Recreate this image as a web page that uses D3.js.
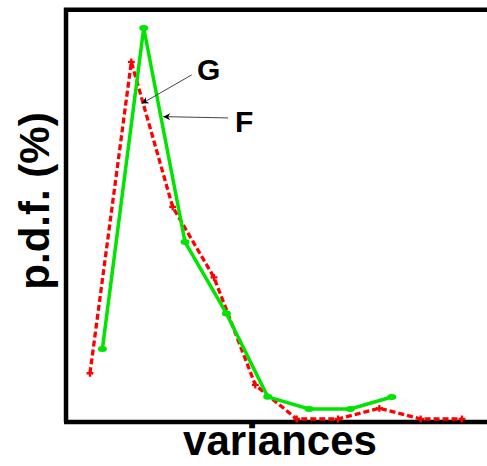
<!DOCTYPE html>
<html>
<head>
<meta charset="utf-8">
<script src="https://cdn.jsdelivr.net/npm/d3@7"></script>
<style>
  body { margin: 0; background: #fff; }
  svg { display: block; }
</style>
</head>
<body>
<svg class="svg"></svg>
<script>
// series F (green, solid) and G (red, dashed) - p.d.f. in %
const varF = [1.3, 2.3, 3.3, 4.3, 5.3, 6.3, 7.3, 8.3]
const pdfF = [5.37, 30.0, 13.58, 8.10, 1.70, 0.77, 0.77, 1.69]

const varG = [1, 2, 3, 4, 5, 6, 7, 8, 9, 10]
const pdfG = [3.51, 27.4, 16.27, 10.86, 2.61, 0, 0, 0.82, 0, 0]

// annotation labels: [label, textX, textY, tailX, tailY, tipX, tipY]
const notes = [
  ["G", 3.59, 26.0, 3.46, 26.4, 2.25, 24.2],
  ["F", 4.51, 22.0, 4.34, 23.1, 2.77, 23.2]
]

const width = 487, height = 466

const svg = d3.select(".svg")
  .attr("width", width)
  .attr("height", height)

const x = d3.scaleLinear().domain([1, 10]).range([90, 462])
const y = d3.scaleLinear().domain([0, 30]).range([419, 28])

// frame (left, top, bottom - no ticks)
const frame = svg.append("g")
  .attr("stroke", "#000")
  .attr("stroke-width", 4.5)
  .attr("fill", "none")

frame.append("path")
  .attr("d", `M${x(0.42)},${y(-0.23)} V${y(31.4)} H${width + 5}`)
frame.append("path")
  .attr("d", `M${x(0.42) - 2},${y(-0.23)} H${width + 5}`)

// red dashed G
const dataG = varG.map((v, i) => ({ x: v, y: pdfG[i] }))
const dataF = varF.map((v, i) => ({ x: v, y: pdfF[i] }))

const line = d3.line().x(d => x(d.x)).y(d => y(d.y))

svg.append("path")
  .datum(dataG)
  .attr("d", line)
  .attr("fill", "none")
  .attr("stroke", "#ff0000")
  .attr("stroke-width", 3.3)
  .attr("stroke-dasharray", "6,3")

svg.selectAll("path.g-mark")
  .data(dataG)
  .join("path")
  .attr("class", "g-mark")
  .attr("transform", d => `translate(${x(d.x)},${y(d.y)})`)
  .attr("d", d3.symbol(d3.symbolCross, 26))
  .attr("fill", "#ff0000")

// green solid F
svg.append("path")
  .datum(dataF)
  .attr("d", line)
  .attr("fill", "none")
  .attr("stroke", "#00e400")
  .attr("stroke-width", 3.5)

svg.selectAll("ellipse.f-mark")
  .data(dataF)
  .join("ellipse")
  .attr("class", "f-mark")
  .attr("cx", d => x(d.x))
  .attr("cy", d => y(d.y))
  .attr("rx", 4.5)
  .attr("ry", 3)
  .attr("fill", "#00e400")

// arrow annotations
svg.append("defs").append("marker")
  .attr("id", "head")
  .attr("viewBox", "0 0 10 10")
  .attr("refX", 10)
  .attr("refY", 5)
  .attr("markerWidth", 9)
  .attr("markerHeight", 7)
  .attr("markerUnits", "userSpaceOnUse")
  .attr("orient", "auto")
  .append("path")
  .attr("d", "M0,0 L10,5 L0,10 L3,5 Z")
  .attr("fill", "#000")

const note = svg.selectAll("g.note")
  .data(notes)
  .join("g")
  .attr("class", "note")

note.append("line")
  .attr("x1", d => x(d[3]))
  .attr("y1", d => y(d[4]))
  .attr("x2", d => x(d[5]))
  .attr("y2", d => y(d[6]))
  .attr("stroke", "#444")
  .attr("stroke-width", 1)
  .attr("marker-end", "url(#head)")

note.append("text")
  .attr("x", d => x(d[1]))
  .attr("y", d => y(d[2]))
  .attr("font-family", "'Liberation Sans', Arial, sans-serif")
  .attr("font-weight", "bold")
  .attr("font-size", 30)
  .attr("fill", "#000")
  .text(d => d[0])

// axis titles
svg.append("text")
  .attr("x", 280)
  .attr("y", 455)
  .attr("text-anchor", "middle")
  .attr("font-family", "'Liberation Sans', Arial, sans-serif")
  .attr("font-weight", "bold")
  .attr("font-size", 42)
  .text("variances")

svg.append("text")
  .attr("transform", "translate(49,201) rotate(-90)")
  .attr("text-anchor", "middle")
  .attr("font-family", "'Liberation Sans', Arial, sans-serif")
  .attr("font-weight", "bold")
  .attr("font-size", 42)
  .text("p.d.f. (%)")
</script>
</body>
</html>
